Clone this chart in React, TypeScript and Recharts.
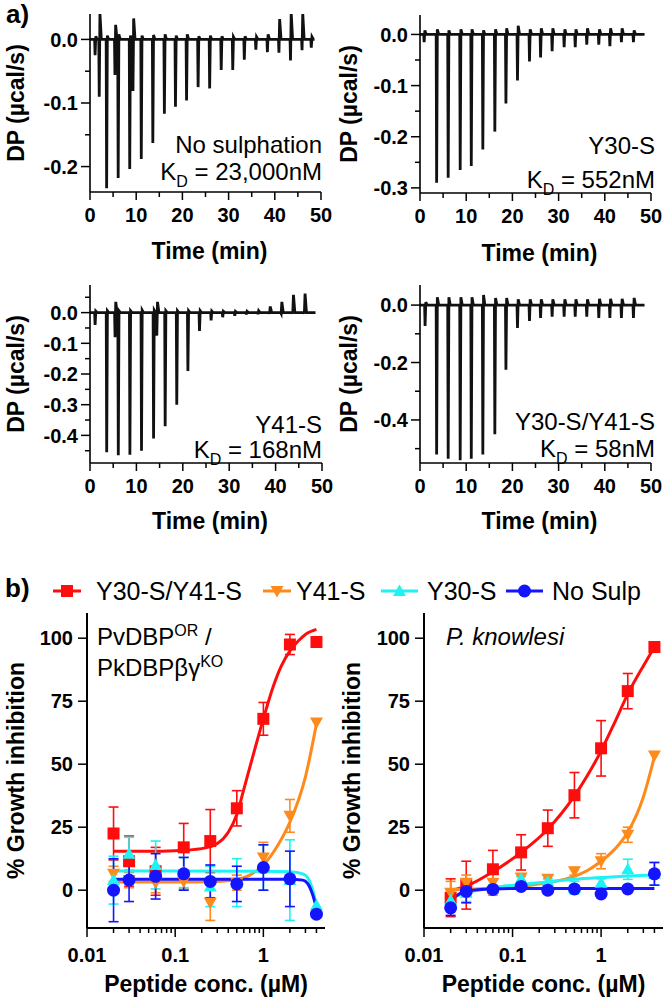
import React from "react";
import { LineChart, Line, XAxis, YAxis, ComposedChart, Scatter, ErrorBar } from "recharts";

const FONT = '"Liberation Sans", Arial, Helvetica, sans-serif';

// ---- a) ITC thermograms: injection time (min), dip and overshoot (µcal/s)
const noSulpTimes = [1.1, 2.0, 3.6, 5.4, 6.1, 8.6, 9.3, 11.1, 13.6, 16.1, 18.5, 20.9, 23.4, 25.9, 28.4, 30.9, 33.4, 35.9, 38.4, 40.9, 43.4, 45.9, 47.9];
const noSulpDips = [-0.025, -0.09, -0.234, -0.056, -0.218, -0.204, -0.081, -0.188, -0.163, -0.117, -0.106, -0.096, -0.075, -0.077, -0.048, -0.048, -0.032, -0.016, -0.02, -0.021, -0.033, -0.017, -0.013];
const noSulpRises = [0.005, 0.041, 0.006, 0.023, 0.008, 0.006, 0.033, 0.006, 0.007, 0.008, 0.006, 0.008, 0.005, 0.006, 0.005, 0.004, 0.005, 0.004, 0.008, 0.032, 0.041, 0.041, 0.004];

const y30Times = [0.9, 3.6, 6.1, 8.7, 11.1, 13.6, 16.2, 18.6, 21.1, 23.7, 26.1, 28.6, 31.2, 33.6, 36.1, 38.7, 41.1, 43.6, 46.2];
const y30Dips = [-0.015, -0.29, -0.28, -0.265, -0.257, -0.225, -0.19, -0.135, -0.09, -0.053, -0.045, -0.033, -0.025, -0.025, -0.02, -0.02, -0.023, -0.015, -0.015];
const y30Rises = [0.008, 0.01, 0.008, 0.01, 0.01, 0.008, 0.01, 0.012, 0.017, 0.01, 0.012, 0.012, 0.01, 0.01, 0.012, 0.01, 0.012, 0.012, 0.008];

const y41Times = [1.1, 3.6, 5.4, 6.1, 8.6, 11.1, 13.7, 14.4, 16.2, 18.7, 21.1, 23.6, 26.1, 28.6, 31.2, 33.7, 36.2, 38.7, 41.2, 43.7, 46.2];
const y41Dips = [-0.04, -0.455, -0.08, -0.465, -0.463, -0.45, -0.41, -0.075, -0.37, -0.3, -0.19, -0.06, -0.025, -0.015, -0.01, -0.006, -0.005, -0.004, -0.003, -0.003, -0.003];
const y41Rises = [0.005, 0.006, 0.035, 0.006, 0.006, 0.008, 0.008, 0.035, 0.006, 0.006, 0.006, 0.006, 0.005, 0.004, 0.004, 0.004, 0.006, 0.02, 0.035, 0.058, 0.062];

const dblTimes = [1.1, 3.6, 6.1, 8.7, 11.1, 13.6, 16.2, 18.6, 21.1, 23.7, 26.1, 28.6, 31.2, 33.6, 36.1, 38.7, 41.1, 43.6, 46.2];
const dblDips = [-0.073, -0.52, -0.535, -0.54, -0.535, -0.52, -0.45, -0.225, -0.08, -0.055, -0.045, -0.04, -0.04, -0.04, -0.04, -0.045, -0.045, -0.045, -0.045];
const dblRises = [0.01, 0.027, 0.027, 0.027, 0.027, 0.035, 0.025, 0.025, 0.02, 0.02, 0.02, 0.02, 0.02, 0.02, 0.02, 0.022, 0.022, 0.022, 0.025];

const itcXTicks = [0, 5, 10, 15, 20, 25, 30, 35, 40, 45, 50];

// ---- b) growth inhibition (%), peptide conc. (µM)
const conc = [0.02, 0.03, 0.06, 0.125, 0.25, 0.5, 1, 2, 4];

const pvDoubleMean = [22.5, 11.5, 7.5, 17, 19.5, 32.5, 68, 97.5, 98.5];
const pvDoubleErr = [10.5, 10, 9.5, 9.5, 12.5, 7, 6.5, 4, 0];
const pvY41Mean = [6.5, 4, 3, 3.5, -5, 3, 13, 29.5, 66.5];
const pvY41Err = [3, 3, 4, 3, 7, 3, 6, 6.5, 0];
const pvY30Mean = [4, 14.5, 10, 7, 1.5, 3, 9, 4, -6];
const pvY30Err = [9.5, 6.5, 9.5, 6, 8, 9.5, 9, 16, 0];
const pvNoMean = [0, 4, 5.5, 6.5, 3.5, 2.5, 9, 4.5, -9.5];
const pvNoErr = [12.5, 8.5, 9, 6.5, 6.5, 7, 9, 11, 0];

const pvDoubleFitX = [0.02, 0.05, 0.1, 0.2, 0.3, 0.4, 0.5, 0.6, 0.8, 1, 1.3, 1.6, 2, 2.5, 3, 4];
const pvDoubleFitY = [15.5, 15.5, 15.7, 16.5, 18.5, 23, 30, 40, 56, 68, 81, 89, 95, 99, 101.5, 103.5];
const pvY41FitX = [0.02, 0.1, 0.3, 0.5, 0.7, 1, 1.5, 2, 3, 4];
const pvY41FitY = [3.3, 3.3, 3.5, 4.2, 6, 10, 18.5, 27, 45, 66];
const pvY30FitX = [0.02, 0.1, 1, 2, 2.8, 3.3, 3.7, 4];
const pvY30FitY = [7.6, 7.6, 7.5, 7.3, 6.5, 4, -1, -6];
const pvNoFitX = [0.02, 0.1, 1, 2, 2.8, 3.2, 3.6, 4];
const pvNoFitY = [4.3, 4.3, 4.3, 4.3, 4, 2.5, -1.5, -7];

const pkDoubleMean = [-3, 2, 8.3, 15, 24.6, 37.7, 56.3, 79, 96.5];
const pkDoubleErr = [7.5, 9.5, 7.5, 7, 7.2, 9, 11, 7, 0];
const pkY41Mean = [-1, 3, 3, 5, 4.5, 7.5, 11.5, 22, 53.5];
const pkY41Err = [4.5, 3, 5, 1.5, 1.5, 1.5, 3, 3, 0];
const pkY30Mean = [-4, -1, 0.5, 4.5, 3.5, 1, 3, 8.3, 6.5];
const pkY30Err = [4, 3.5, 1.5, 1, 1, 2.5, 1.5, 4, 4.5];
const pkNoMean = [-7, -0.5, 0.3, 1.5, 0, 0.5, -1.5, 0.5, 6.5];
const pkNoErr = [3, 4.5, 1, 0.5, 0.5, 0.5, 0.5, 0.5, 4.5];

const pkDoubleFitX = [0.02, 0.03, 0.06, 0.125, 0.25, 0.5, 0.7, 1, 1.4, 2, 3, 4];
const pkDoubleFitY = [-0.2, 1.6, 7.3, 15, 24.2, 37.4, 45.5, 55.3, 66, 77.8, 89, 96.5];
const pkY41FitX = [0.02, 0.06, 0.125, 0.25, 0.5, 0.7, 1, 1.4, 2, 3, 4];
const pkY41FitY = [0.3, 0.8, 1.5, 3, 5.5, 7.8, 11.5, 16, 23, 37, 53];
const pkY30FitX = [0.02, 0.03, 0.06, 0.125, 0.25, 0.5, 1, 2, 4];
const pkY30FitY = [-3, -1, 1, 2.3, 3.3, 4.3, 5, 5.6, 6];
const pkNoFitX = [0.02, 0.03, 0.06, 0.125, 0.5, 1, 2, 4];
const pkNoFitY = [-4, -0.3, 0.5, 0.7, 0.7, 0.7, 0.7, 0.7];

const logTicks = [0.01, 0.02, 0.03, 0.04, 0.05, 0.06, 0.07, 0.08, 0.09, 0.1, 0.2, 0.3, 0.4, 0.5, 0.6, 0.7, 0.8, 0.9, 1, 2, 3, 4];
const pctTicks = [0, 25, 50, 75, 100];

const RED = "#ff0d0d";
const ORANGE = "#ff8a1c";
const CYAN = "#1ff2f2";
const BLUE = "#1414ff";

const tickFont = { fontFamily: FONT, fontSize: 20, fontWeight: 700, fill: "#000" };
const titleFont = { fontFamily: FONT, fontSize: 23, fontWeight: 700, fill: "#000" };
const axisLine = { stroke: "#000", strokeWidth: 1.6 };

function buildTrace(times: number[], dips: number[], rises: number[]) {
  const pts = [{ t: 0, dp: 0 }];
  times.forEach((t, i) => {
    pts.push({ t: t - 0.1, dp: 0 });
    pts.push({ t, dp: dips[i] });
    pts.push({ t: t + 0.15, dp: rises[i] });
    pts.push({ t: t + 0.45, dp: 0 });
  });
  pts.push({ t: 48.6, dp: 0 });
  return pts;
}

const onStep = (step: number) => (v: number) => Math.abs(v / step - Math.round(v / step)) < 1e-6;

const xTick = (isMajor: (v: number) => boolean, fmt: (v: number) => string, big: number, small: number, labelDy: number) =>
  (p: any) => {
    const v = p.payload.value;
    const major = isMajor(v);
    return (
      <g>
        <line x1={p.x} x2={p.x} y1={p.y} y2={p.y + (major ? big : small)} stroke="#000" strokeWidth={1.5} />
        {major && (
          <text x={p.x} y={p.y + labelDy} textAnchor="middle" style={tickFont}>
            {fmt(v)}
          </text>
        )}
      </g>
    );
  };

const yTick = (isMajor: (v: number) => boolean, fmt: (v: number) => string, big: number, small: number, gap: number) =>
  (p: any) => {
    const v = p.payload.value;
    const major = isMajor(v);
    return (
      <g>
        <line x1={p.x - (major ? big : small)} x2={p.x} y1={p.y} y2={p.y} stroke="#000" strokeWidth={1.5} />
        {major && (
          <text x={p.x - gap} y={p.y} dy="0.36em" textAnchor="end" style={tickFont}>
            {fmt(v)}
          </text>
        )}
      </g>
    );
  };

function ItcPanel(props: {
  left: number;
  top: number;
  yWidth: number;
  right: number;
  marginTop: number;
  domain: [number, number];
  ticks: number[];
  majorStep: number;
  trace: { t: number; dp: number }[];
  titleOffset: number;
}) {
  const { left, top, yWidth, right, marginTop, domain, ticks, majorStep, trace, titleOffset } = props;
  return (
    <div style={{ position: "absolute", left, top }}>
      <LineChart width={333} height={270} data={trace} margin={{ top: marginTop, right, bottom: 270 - marginTop - 178 - 76, left: 0 }}>
        <XAxis
          dataKey="t"
          type="number"
          domain={[0, 50]}
          ticks={itcXTicks}
          interval={0}
          tickSize={0}
          tickMargin={0}
          tickLine={false}
          axisLine={axisLine}
          tick={xTick(onStep(10), (v) => String(v), 8, 5, 30)}
          height={76}
          label={{ value: "Time (min)", position: "insideBottom", offset: titleOffset, dx: 4, style: titleFont }}
        />
        <YAxis
          type="number"
          domain={domain}
          allowDataOverflow
          ticks={ticks}
          interval={0}
          tickSize={0}
          tickMargin={0}
          tickLine={false}
          axisLine={axisLine}
          width={yWidth}
          tick={yTick(onStep(majorStep), (v) => v.toFixed(1), 9, 5, 12)}
          label={{ value: "DP (µcal/s)", angle: -90, position: "insideLeft", offset: 16, style: { ...titleFont, textAnchor: "middle" } }}
        />
        <Line type="linear" dataKey="dp" stroke="#111" strokeWidth={2.8} dot={false} isAnimationActive={false} />
      </LineChart>
    </div>
  );
}

const Square = (p: any) => <rect x={p.cx - 6} y={p.cy - 6} width={12} height={12} fill={p.fill} />;
const TriDown = (p: any) => (
  <polygon points={`${p.cx - 6.5},${p.cy - 5} ${p.cx + 6.5},${p.cy - 5} ${p.cx},${p.cy + 6.5}`} fill={p.fill} />
);
const TriUp = (p: any) => (
  <polygon points={`${p.cx - 6.5},${p.cy + 5} ${p.cx + 6.5},${p.cy + 5} ${p.cx},${p.cy - 6.5}`} fill={p.fill} />
);
const Dot = (p: any) => <circle cx={p.cx} cy={p.cy} r={6.5} fill={p.fill} />;

const points = (means: number[], errs: number[]) => conc.map((x, i) => ({ x, y: means[i], err: errs[i] }));
const curve = (xs: number[], ys: number[]) => xs.map((x, i) => ({ x, y: ys[i] }));

type Series = { name: string; color: string; shape: any; pts: any[]; fit: any[] };

const pvSeries: Series[] = [
  { name: "dbl", color: RED, shape: Square, pts: points(pvDoubleMean, pvDoubleErr), fit: curve(pvDoubleFitX, pvDoubleFitY) },
  { name: "y41", color: ORANGE, shape: TriDown, pts: points(pvY41Mean, pvY41Err), fit: curve(pvY41FitX, pvY41FitY) },
  { name: "y30", color: CYAN, shape: TriUp, pts: points(pvY30Mean, pvY30Err), fit: curve(pvY30FitX, pvY30FitY) },
  { name: "no", color: BLUE, shape: Dot, pts: points(pvNoMean, pvNoErr), fit: curve(pvNoFitX, pvNoFitY) },
];
const pkSeries: Series[] = [
  { name: "dbl", color: RED, shape: Square, pts: points(pkDoubleMean, pkDoubleErr), fit: curve(pkDoubleFitX, pkDoubleFitY) },
  { name: "y41", color: ORANGE, shape: TriDown, pts: points(pkY41Mean, pkY41Err), fit: curve(pkY41FitX, pkY41FitY) },
  { name: "y30", color: CYAN, shape: TriUp, pts: points(pkY30Mean, pkY30Err), fit: curve(pkY30FitX, pkY30FitY) },
  { name: "no", color: BLUE, shape: Dot, pts: points(pkNoMean, pkNoErr), fit: curve(pkNoFitX, pkNoFitY) },
];

function GrowthPanel({ left, yWidth, right, titleX, series }: { left: number; yWidth: number; right: number; titleX: number; series: Series[] }) {
  return (
    <div style={{ position: "absolute", left, top: 600 }}>
      <ComposedChart width={333} height={400} margin={{ top: 13, right, bottom: 2, left: 0 }}>
        <XAxis
          dataKey="x"
          type="number"
          scale="log"
          domain={[0.01, 5]}
          allowDataOverflow
          ticks={logTicks}
          interval={0}
          tickSize={0}
          tickMargin={0}
          tickLine={false}
          axisLine={{ stroke: "#000", strokeWidth: 2 }}
          tick={xTick((v) => v === 0.01 || v === 0.1 || v === 1, (v) => String(v), 9, 5, 34)}
          height={70}
          label={{ value: "Peptide conc. (µM)", position: "insideBottom", offset: 6, style: titleFont }}
        />
        <YAxis
          type="number"
          domain={[-15, 110]}
          allowDataOverflow
          ticks={pctTicks}
          interval={0}
          tickSize={0}
          tickMargin={0}
          tickLine={false}
          axisLine={{ stroke: "#000", strokeWidth: 2 }}
          width={yWidth}
          tick={yTick(() => true, (v) => String(v), 9, 9, 14)}
          label={{ value: "% Growth inhibition", angle: -90, position: "insideLeft", offset: titleX, style: { ...titleFont, textAnchor: "middle" } }}
        />
        {series.map((s) => (
          <React.Fragment key={s.name}>
            <Line data={s.fit} dataKey="y" type="monotone" stroke={s.color} strokeWidth={3} dot={false} isAnimationActive={false} />
            <Scatter data={s.pts} dataKey="y" fill={s.color} shape={s.shape} isAnimationActive={false}>
              <ErrorBar dataKey="err" direction="y" width={5} stroke={s.color} strokeWidth={1.6} />
            </Scatter>
          </React.Fragment>
        ))}
      </ComposedChart>
    </div>
  );
}

const legendItems = [
  { label: "Y30-S/Y41-S", color: RED, shape: Square, x1: 53, x2: 81, tx: 96 },
  { label: "Y41-S", color: ORANGE, shape: TriDown, x1: 263, x2: 291, tx: 296 },
  { label: "Y30-S", color: CYAN, shape: TriUp, x1: 381, x2: 418, tx: 427 },
  { label: "No Sulp", color: BLUE, shape: Dot, x1: 506, x2: 543, tx: 552 },
];

const noteFont = { fontFamily: FONT, fontSize: 24, fill: "#000" };

function Kd({ x, y, value }: { x: number; y: number; value: string }) {
  return (
    <text x={x} y={y} textAnchor="end" style={noteFont}>
      K<tspan fontSize={16} dy={7}>D</tspan>
      <tspan dy={-7}>{` = ${value}`}</tspan>
    </text>
  );
}

export default function App() {
  return (
    <div style={{ position: "absolute", left: 0, top: 0, width: 666, height: 1008, background: "#fff", overflow: "hidden" }}>
      <ItcPanel left={0} top={0} yWidth={90} right={12} marginTop={14} domain={[-0.24, 0.04]} ticks={[-0.2, -0.15, -0.1, -0.05, 0]} majorStep={0.1} trace={buildTrace(noSulpTimes, noSulpDips, noSulpRises)} titleOffset={9} />
      <ItcPanel left={333} top={0} yWidth={87} right={15} marginTop={15} domain={[-0.31, 0.038]} ticks={[-0.3, -0.25, -0.2, -0.15, -0.1, -0.05, 0]} majorStep={0.1} trace={buildTrace(y30Times, y30Dips, y30Rises)} titleOffset={8} />
      <ItcPanel left={0} top={270} yWidth={90} right={11} marginTop={15} domain={[-0.49, 0.09]} ticks={[-0.45, -0.4, -0.35, -0.3, -0.25, -0.2, -0.15, -0.1, -0.05, 0, 0.05]} majorStep={0.1} trace={buildTrace(y41Times, y41Dips, y41Rises)} titleOffset={10} />
      <ItcPanel left={333} top={270} yWidth={87} right={15} marginTop={15} domain={[-0.55, 0.07]} ticks={[-0.5, -0.4, -0.3, -0.2, -0.1, 0]} majorStep={0.2} trace={buildTrace(dblTimes, dblDips, dblRises)} titleOffset={10} />

      <GrowthPanel left={0} yWidth={87} right={8} titleX={16} series={pvSeries} />
      <GrowthPanel left={333} yWidth={91} right={3} titleX={19} series={pkSeries} />

      <svg width={666} height={1008} style={{ position: "absolute", left: 0, top: 0, pointerEvents: "none" }}>
        <text x={6} y={23} style={{ ...noteFont, fontSize: 26, fontWeight: 700 }}>a)</text>
        <text x={5} y={597} style={{ ...noteFont, fontSize: 26, fontWeight: 700 }}>b)</text>

        <text x={322} y={153} textAnchor="end" style={noteFont}>No sulphation</text>
        <Kd x={322} y={180} value="23,000nM" />
        <text x={655} y={154} textAnchor="end" style={noteFont}>Y30-S</text>
        <Kd x={655} y={188} value="552nM" />
        <text x={322} y={433} textAnchor="end" style={noteFont}>Y41-S</text>
        <Kd x={322} y={458} value="168nM" />
        <text x={655} y={430} textAnchor="end" style={noteFont}>Y30-S/Y41-S</text>
        <Kd x={655} y={457} value="58nM" />

        {legendItems.map((it) => {
          const Shape = it.shape;
          const cy = 591;
          return (
            <g key={it.label}>
              <line x1={it.x1} x2={it.x2} y1={cy} y2={cy} stroke={it.color} strokeWidth={3} />
              <Shape cx={(it.x1 + it.x2) / 2} cy={cy} fill={it.color} />
              <text x={it.tx} y={cy + 8.5} style={{ ...noteFont, fontSize: 25 }}>{it.label}</text>
            </g>
          );
        })}

        <text x={97} y={645} style={noteFont}>
          PvDBP<tspan fontSize={16} dy={-9}>OR</tspan>
          <tspan dy={9}> /</tspan>
        </text>
        <text x={97} y={676} style={noteFont}>
          PkDBPβγ<tspan fontSize={16} dy={-9}>KO</tspan>
        </text>
        <text x={446} y={645} style={{ ...noteFont, fontStyle: "italic" }}>P. knowlesi</text>
      </svg>
    </div>
  );
}
